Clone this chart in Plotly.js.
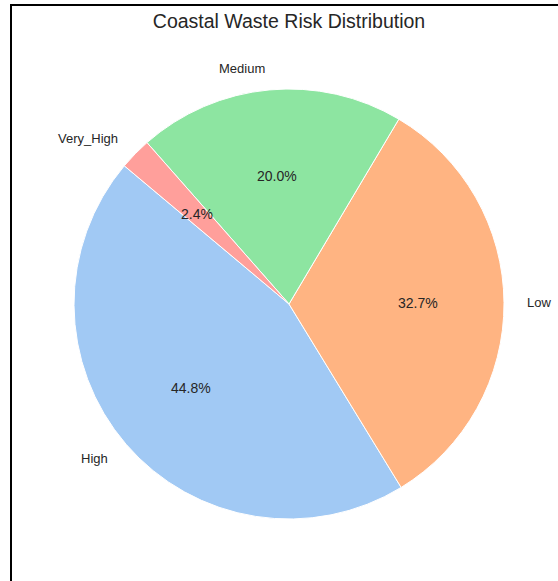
<!DOCTYPE html>
<html>
<head>
<meta charset="utf-8">
<script src="https://cdn.plot.ly/plotly-3.0.1.min.js"></script>
<style>
  html, body { margin: 0; padding: 0; background: #ffffff; }
  #wrap { position: relative; width: 558px; height: 581px; overflow: hidden; }
  #chart { position: absolute; left: 0; top: 0; width: 558px; height: 581px; }
  .bl { position: absolute; left: 10px; top: 4px; width: 2px; height: 577px; background: #000; }
  .bt { position: absolute; left: 10px; top: 4px; width: 548px; height: 2px; background: #000; }
</style>
</head>
<body>
<div id="wrap">
  <div id="chart"></div>
  <div class="bl"></div>
  <div class="bt"></div>
</div>
<script>
const categories = ["High", "Low", "Medium", "Very_High"];
const percentages = [44.8, 32.7, 20.0, 2.4];
const colors = ["#a1c9f4", "#ffb482", "#8de5a1", "#ff9f9b"];
const chartTitle = "Coastal Waste Risk Distribution";
const startAngle = 140; // degrees, counterclockwise from +x

const textColor = "#262626";
const fontFam = "Liberation Sans, Arial, sans-serif";

const total = percentages.reduce((a, b) => a + b, 0);
const firstSpan = percentages[0] / total * 360;

// annotations derived from data (matplotlib-like label/pct placement)
const annotations = [];
let a0 = startAngle;
percentages.forEach((v, i) => {
  const span = v / total * 360;
  const mid = (a0 + span / 2) * Math.PI / 180;
  const cx = Math.cos(mid), cy = Math.sin(mid);
  annotations.push({
    xref: "paper", yref: "paper",
    x: 0.5 + 0.5 * 1.1 * cx, y: 0.5 + 0.5 * 1.1 * cy,
    xanchor: cx > 0 ? "left" : "right", yanchor: "middle",
    text: categories[i], showarrow: false,
    font: { family: fontFam, size: 13, color: textColor }
  });
  annotations.push({
    xref: "paper", yref: "paper",
    x: 0.5 + 0.5 * 0.6 * cx, y: 0.5 + 0.5 * 0.6 * cy,
    xanchor: "center", yanchor: "middle",
    text: v.toFixed(1) + "%", showarrow: false,
    font: { family: fontFam, size: 14, color: textColor }
  });
  a0 += span;
});

const data = [{
  type: "pie",
  labels: categories,
  values: percentages,
  sort: false,
  direction: "counterclockwise",
  rotation: 90 - startAngle - firstSpan,
  marker: { colors: colors, line: { color: "#ffffff", width: 1 } },
  textinfo: "none",
  hoverinfo: "skip",
  showlegend: false,
  domain: { x: [0, 1], y: [0, 1] }
}];

const layout = {
  width: 558, height: 581,
  margin: { l: 74, r: 54, t: 89, b: 62, pad: 0 },
  paper_bgcolor: "rgba(0,0,0,0)",
  plot_bgcolor: "rgba(0,0,0,0)",
  showlegend: false,
  title: {
    text: chartTitle,
    font: { family: fontFam, size: 19.5, color: textColor },
    xref: "paper", x: 0.5, xanchor: "center",
    yref: "container", y: 1 - 21 / 581, yanchor: "middle"
  },
  annotations: annotations
};

Plotly.newPlot("chart", data, layout, { displayModeBar: false, staticPlot: true });
</script>
</body>
</html>
